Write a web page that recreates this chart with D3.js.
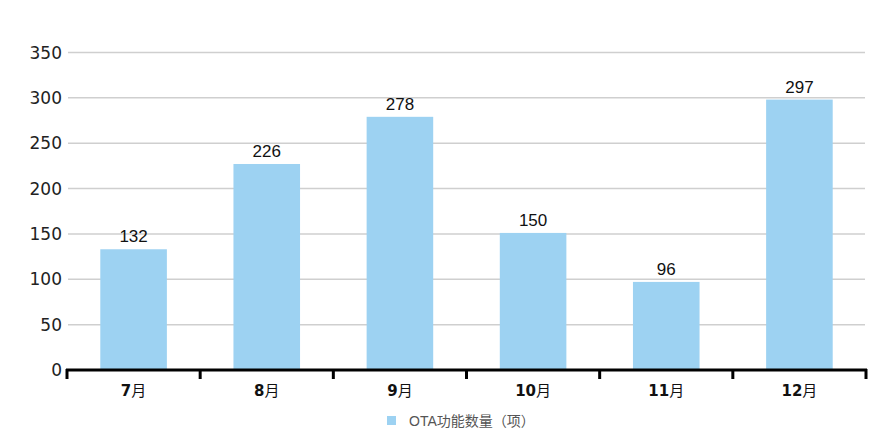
<!DOCTYPE html>
<html><head><meta charset="utf-8">
<script src="https://cdn.jsdelivr.net/npm/d3@7"></script>
<style>body{margin:0;background:#fff}</style>
</head><body>
<svg id="c" width="895" height="440"></svg>
<script>
const categories = ["7月","8月","9月","10月","11月","12月"];
const values = [132,226,278,150,96,297];
const yTicks = [0,50,100,150,200,250,300,350];
const seriesName = "OTA功能数量（项）";

const svg = d3.select("#c");
const x = d3.scaleBand().domain(categories).range([67,866]).paddingInner(0.5).paddingOuter(0.25);
const y = d3.scaleLinear().domain([0,350]).range([370,52.5]);

// grid
svg.append("g").selectAll("line").data(yTicks.filter(d=>d>0)).join("line")
  .attr("x1",68).attr("x2",865).attr("y1",d=>y(d)).attr("y2",d=>y(d))
  .attr("stroke","#cfcfcf").attr("stroke-width",1.5);

// y labels
svg.append("g").selectAll("text").data(yTicks).join("text")
  .attr("x",62).attr("y",d=>y(d)).attr("dy","0.36em")
  .attr("text-anchor","end").attr("font-family","DejaVu Sans").attr("font-size",17)
  .attr("fill","#222").text(d=>d);

// bars
svg.append("g").selectAll("rect").data(values).join("rect")
  .attr("x",(d,i)=>x(categories[i])).attr("width",x.bandwidth())
  .attr("y",d=>y(d)-1).attr("height",d=>y(0)-y(d)+1).attr("fill","#9dd2f2");

// value labels
svg.append("g").selectAll("text").data(values).join("text")
  .attr("x",(d,i)=>x(categories[i])+x.bandwidth()/2).attr("y",d=>y(d)-8)
  .attr("text-anchor","middle").attr("font-family","Liberation Sans, Arial").attr("font-size",17)
  .attr("fill","#111").text(d=>d);

// x axis
const edges = d3.range(categories.length+1).map(i=>67+i*(866-67)/categories.length);
svg.append("line").attr("x1",66).attr("x2",867).attr("y1",370).attr("y2",370)
  .attr("stroke","#000").attr("stroke-width",3);
svg.append("g").selectAll("line").data(edges).join("line")
  .attr("x1",d=>d).attr("x2",d=>d).attr("y1",369).attr("y2",379)
  .attr("stroke","#000").attr("stroke-width",3);
const xl = svg.append("g").selectAll("text").data(categories).join("text")
  .attr("x",d=>x(d)+x.bandwidth()/2).attr("y",391).attr("dy","0.36em")
  .attr("text-anchor","middle").attr("font-family","DejaVu Sans, Noto Sans CJK SC")
  .attr("font-size",15).attr("fill","#111");
xl.append("tspan").attr("font-weight","bold").text(d=>d.replace("月",""));
xl.append("tspan").attr("font-family","Noto Sans CJK SC").text("月");

// legend
svg.append("rect").attr("x",387).attr("y",416).attr("width",9).attr("height",9).attr("fill","#9dd2f2");
svg.append("text").attr("x",409).attr("y",421).attr("dy","0.36em")
  .attr("font-family","Liberation Sans, Noto Sans CJK SC").attr("font-size",14).attr("fill","#555").text(seriesName);
</script>
</body></html>
